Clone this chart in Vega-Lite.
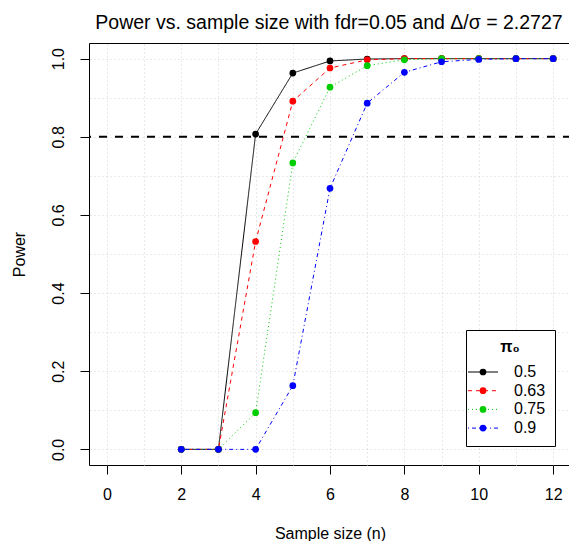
{
  "$schema": "https://vega.github.io/schema/vega-lite/v6.json",
  "width": 482,
  "height": 422,
  "autosize": "none",
  "padding": {"left": 89, "top": 43, "right": 0, "bottom": 76},
  "background": "white",
  "config": {
    "font": "Liberation Sans",
    "view": {"stroke": "black", "strokeWidth": 1},
    "axis": {"labelFontSize": 16, "titleFontSize": 16, "titleFontWeight": "normal", "labelColor": "black", "titleColor": "black", "tickColor": "black", "domain": false, "tickSize": 9, "gridColor": "#D3D3D3", "gridDash": [1, 3], "gridWidth": 1}
  },
  "title": {"text": "Power vs. sample size with fdr=0.05 and Δ/σ = 2.2727", "fontSize": 19.5, "fontWeight": "normal", "anchor": "middle", "dx": -1, "dy": 20, "offset": 15, "baseline": "alphabetic", "color": "black"},
  "resolve": {"axis": {"x": "independent", "y": "independent"}},
  "layer": [
    {
      "data": {"values": [{"threshold": 0.8}]},
      "mark": {"type": "rule", "strokeDash": [8, 8], "strokeWidth": 2, "color": "black"},
      "encoding": {"y": {"field": "threshold", "type": "quantitative", "axis": null}}
    },
    {
      "data": {"name": "power"},
      "mark": {"type": "line", "strokeWidth": 1},
      "encoding": {
        "x": {"field": "n", "type": "quantitative", "title": "Sample size (n)",
          "scale": {"domain": [-0.48, 12.48], "nice": false, "zero": false},
          "axis": {"orient": "bottom", "values": [0,2,4,6,8,10,12], "format": "d", "grid": false, "labelPadding": 12, "titlePadding": 23}},
        "y": {"field": "power", "type": "quantitative", "title": "Power",
          "scale": {"domain": [-0.04, 1.04], "nice": false, "zero": false},
          "axis": {"orient": "left", "values": [0,0.2,0.4,0.6,0.8,1], "format": ".1f", "grid": false, "labelAngle": 270, "labelAlign": "center", "labelBaseline": "bottom", "labelPadding": 14, "titlePadding": 23}},
        "color": {"field": "pi0", "type": "nominal", "title": "π₀",
          "scale": {"range": ["black", "#FF0000", "#00CD00", "#0000FF"]},
          "legend": {"orient": "none", "legendX": 377, "legendY": 287, "padding": 9, "strokeColor": "black", "fillColor": "white", "titleFontSize": 16, "titleFontWeight": "bold", "titleAnchor": "middle", "titleColor": "black", "titlePadding": 9, "labelFontSize": 16, "labelColor": "black", "symbolType": "M-2,0H2", "symbolSize": 225, "symbolStrokeWidth": 1, "labelOffset": 23, "rowPadding": 2.7}},
        "strokeDash": {"field": "pi0", "type": "nominal", "title": "π₀",
          "scale": {"range": [[1, 0], [4, 4], [1, 3], [1, 3, 4, 3]]}}
      }
    },
    {
      "data": {"name": "power"},
      "mark": {"type": "point", "filled": true, "size": 45, "opacity": 1, "strokeWidth": 0},
      "encoding": {
        "x": {"field": "n", "type": "quantitative",
          "axis": {"orient": "top", "values": [0,1,2,3,4,5,6,7,8,9,10,11,12], "grid": true, "ticks": false, "labels": false, "domain": false, "title": null}},
        "y": {"field": "power", "type": "quantitative",
          "axis": {"orient": "right", "values": [0,0.1,0.2,0.3,0.4,0.5,0.6,0.7,0.8,0.9,1], "grid": true, "ticks": false, "labels": false, "domain": false, "title": null}},
        "fill": {"field": "pi0", "type": "nominal", "title": "π₀",
          "scale": {"domain": ["0.5", "0.63", "0.75", "0.9"], "range": ["black", "#FF0000", "#00CD00", "#0000FF"]},
          "legend": {"orient": "none", "legendX": 377, "legendY": 287, "padding": 9, "titleFontSize": 16, "titleFontWeight": "bold", "titleAnchor": "middle", "titleColor": "transparent", "titlePadding": 9, "labelFontSize": 16, "labelColor": "transparent", "symbolType": "circle", "symbolSize": 45, "symbolStrokeWidth": 0, "symbolOpacity": 1, "labelOffset": 23, "rowPadding": 2.7}}
      }
    }
  ],
  "datasets": {
    "power": [
      {"pi0": "0.5", "n": 2, "power": 0}, {"pi0": "0.5", "n": 3, "power": 0}, {"pi0": "0.5", "n": 4, "power": 0.807}, {"pi0": "0.5", "n": 5, "power": 0.963}, {"pi0": "0.5", "n": 6, "power": 0.994}, {"pi0": "0.5", "n": 7, "power": 0.999}, {"pi0": "0.5", "n": 8, "power": 1}, {"pi0": "0.5", "n": 9, "power": 1}, {"pi0": "0.5", "n": 10, "power": 1}, {"pi0": "0.5", "n": 11, "power": 1}, {"pi0": "0.5", "n": 12, "power": 1},
      {"pi0": "0.63", "n": 2, "power": 0}, {"pi0": "0.63", "n": 3, "power": 0}, {"pi0": "0.63", "n": 4, "power": 0.532}, {"pi0": "0.63", "n": 5, "power": 0.891}, {"pi0": "0.63", "n": 6, "power": 0.976}, {"pi0": "0.63", "n": 7, "power": 0.997}, {"pi0": "0.63", "n": 8, "power": 1}, {"pi0": "0.63", "n": 9, "power": 1}, {"pi0": "0.63", "n": 10, "power": 1}, {"pi0": "0.63", "n": 11, "power": 1}, {"pi0": "0.63", "n": 12, "power": 1},
      {"pi0": "0.75", "n": 2, "power": 0}, {"pi0": "0.75", "n": 3, "power": 0}, {"pi0": "0.75", "n": 4, "power": 0.094}, {"pi0": "0.75", "n": 5, "power": 0.733}, {"pi0": "0.75", "n": 6, "power": 0.927}, {"pi0": "0.75", "n": 7, "power": 0.982}, {"pi0": "0.75", "n": 8, "power": 0.997}, {"pi0": "0.75", "n": 9, "power": 1}, {"pi0": "0.75", "n": 10, "power": 1}, {"pi0": "0.75", "n": 11, "power": 1}, {"pi0": "0.75", "n": 12, "power": 1},
      {"pi0": "0.9", "n": 2, "power": 0}, {"pi0": "0.9", "n": 3, "power": 0}, {"pi0": "0.9", "n": 4, "power": 0}, {"pi0": "0.9", "n": 5, "power": 0.163}, {"pi0": "0.9", "n": 6, "power": 0.668}, {"pi0": "0.9", "n": 7, "power": 0.886}, {"pi0": "0.9", "n": 8, "power": 0.965}, {"pi0": "0.9", "n": 9, "power": 0.992}, {"pi0": "0.9", "n": 10, "power": 0.998}, {"pi0": "0.9", "n": 11, "power": 1}, {"pi0": "0.9", "n": 12, "power": 1}
    ]
  }
}
